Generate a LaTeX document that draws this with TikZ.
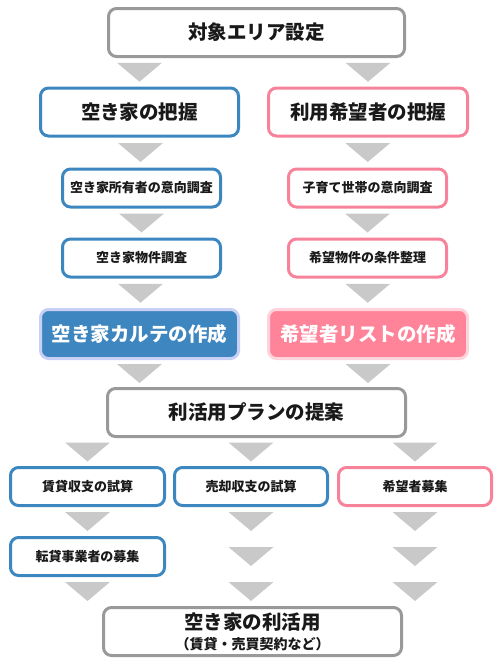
\documentclass[tikz,border=0pt]{standalone}
\usepackage{fontspec}
\setmainfont{Noto Sans CJK JP}
\usetikzlibrary{positioning,calc}
\usepackage{xcolor}
\definecolor{waku}{HTML}{999999}
\definecolor{ao}{HTML}{3C87BF}
\definecolor{momo}{HTML}{F7839A}
\definecolor{aofill}{HTML}{3E86BF}
\definecolor{aoglow}{HTML}{C8D0F5}
\definecolor{momofill}{HTML}{FF8399}
\definecolor{momoglow}{HTML}{FFD3DC}
\definecolor{sankaku}{HTML}{C9C9C9}
\begin{document}
\begin{tikzpicture}[x=1pt,y=-1pt,
    big/.style={draw=waku,rounded corners=8pt,line width=3pt,fill=white,inner sep=0pt,
      minimum height=48pt,text=black!90,font=\bfseries\fontsize{19.5}{22}\selectfont},%
    small/.style={big,minimum height=38pt,font=\bfseries\fontsize{13}{15}\selectfont},%
    full/.style={big,text=white,minimum height=49pt},%
    pics/tri/.style={code={\fill[sankaku] (-22.5,-9.5) -- (22.5,-9.5) -- (0,9.5) -- cycle;}}]
    \useasboundingbox (0,0) rectangle (500,670);
    \node[big,minimum width=296pt] (area) at (256.5,32.5) {対象エリア設定};
    % left column
    \node[big,draw=ao,minimum width=198pt] (akiya) at (139.5,112) {空き家の把握};
    \node[small,draw=ao,minimum width=158pt] (shoyu) at (141.5,188) {空き家所有者の意向調査};
    \node[small,draw=ao,minimum width=158pt] (bukken) at (141.5,258) {空き家物件調査};
    \node[full,draw=aoglow,fill=aofill,minimum width=198pt] (karte) at (139.5,334) {空き家カルテの作成};
    % right column
    \node[big,draw=momo,minimum width=199pt] (kibou) at (368,112) {利用希望者の把握};
    \node[small,draw=momo,minimum width=158pt] (kosodate) at (367.5,188) {子育て世帯の意向調査};
    \node[small,draw=momo,minimum width=158pt] (joken) at (367.5,258) {希望物件の条件整理};
    \node[full,draw=momoglow,fill=momofill,minimum width=199pt] (list) at (368,334) {希望者リストの作成};

    \node[big,minimum width=298pt] (plan) at (256.5,412.5) {利活用プランの提案};
    \node[small,draw=ao,minimum width=154pt] (chintai) at (87.5,486.5) {賃貸収支の試算};
    \node[small,draw=ao,minimum width=153pt] (baikyaku) at (251,486.5) {売却収支の試算};
    \node[small,draw=momo,minimum width=153pt] (boshu) at (415,486.5) {希望者募集};
    \node[small,draw=ao,minimum width=154pt] (tentai) at (87.5,556.5) {転貸事業者の募集};
    \node[big,minimum width=298pt,align=center,font=\bfseries\fontsize{14}{20}\selectfont] (katsuyo) at (252.5,631.5)
      {{\fontsize{19.5}{20}\selectfont 空き家の利活用}\\（賃貸・売買契約など）};

    % arrows
    \pic at ($(akiya.north |- area.south)!.5!(akiya.north)$) {tri};
    \pic at ($(kibou.north |- area.south)!.5!(kibou.north)$) {tri};
    \pic at ($(akiya.south)!.5!(shoyu.north)$) {tri};
    \pic at ($(kibou.south)!.5!(kosodate.north)$) {tri};
    \pic at ($(shoyu.south)!.5!(bukken.north)$) {tri};
    \pic at ($(kosodate.south)!.5!(joken.north)$) {tri};
    \pic at ($(bukken.south)!.5!(karte.north)$) {tri};
    \pic at ($(joken.south)!.5!(list.north)$) {tri};
    \pic at ($(karte.south)!.5!(karte.south |- plan.north)$) {tri};
    \pic at ($(list.south)!.5!(list.south |- plan.north)$) {tri};
    \coordinate (m0) at ($(plan.south)!.5!(baikyaku.north)$);
    \coordinate (m1) at ($(chintai.south)!.5!(tentai.north)$);
    \coordinate (m3) at ($(tentai.south)!.5!(tentai.south |- katsuyo.north)$);
    \coordinate (m2) at ($(m1)!.5!(m3)$);
    \foreach \c in {chintai,baikyaku,boshu}{
      \pic at (m0 -| \c.south) {tri};
      \pic at (m1 -| \c.south) {tri};
      \pic at (m3 -| \c.south) {tri};}
    \foreach \c in {baikyaku,boshu}
      \pic at (m2 -| \c.south) {tri};
\end{tikzpicture}
\end{document}
